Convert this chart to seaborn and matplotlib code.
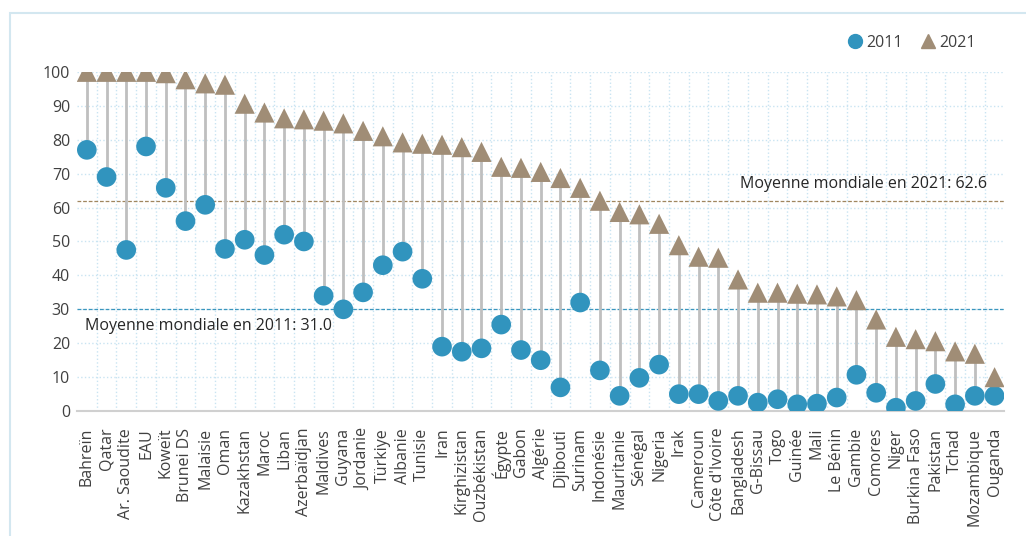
import pandas as pd
import seaborn as sns
import matplotlib.pyplot as plt
from matplotlib.patches import Rectangle
from matplotlib.lines import Line2D

sns.set_style('white')
plt.rcParams['font.family'] = ['Open Sans', 'DejaVu Sans']

countries = ['Bahreïn', 'Qatar', 'Ar. Saoudite', 'EAU', 'Koweït', 'Brunei DS', 'Malaisie',
             'Oman', 'Kazakhstan', 'Maroc', 'Liban', 'Azerbaïdjan', 'Maldives', 'Guyana',
             'Jordanie', 'Türkiye', 'Albanie', 'Tunisie', 'Iran', 'Kirghizistan',
             'Ouzbékistan', 'Égypte', 'Gabon', 'Algérie', 'Djibouti', 'Surinam', 'Indonésie',
             'Mauritanie', 'Sénégal', 'Nigeria', 'Irak', 'Cameroun', "Côte d'Ivoire",
             'Bangladesh', 'G-Bissau', 'Togo', 'Guinée', 'Mali', 'Le Bénin', 'Gambie',
             'Comores', 'Niger', 'Burkina Faso', 'Pakistan', 'Tchad', 'Mozambique', 'Ouganda']

values_2011 = [77, 69, 47.5, 78, 65.8, 56, 60.8, 47.8, 50.5, 46, 52, 50, 34, 30, 35, 43,
               47, 39, 19, 17.5, 18.5, 25.5, 18, 15, 7, 32, 12, 4.5, 9.8, 13.7, 5, 5, 3,
               4.5, 2.5, 3.5, 2, 2.2, 4, 10.7, 5.4, 1, 3, 8, 2, 4.5, 4.5]

values_2021 = [100, 100, 100, 100, 99.6, 97.8, 96.6, 96.2, 90.6, 88, 86.3, 86, 85.6, 84.8,
               82.6, 81, 79.2, 78.8, 78.5, 77.8, 76.4, 72, 71.7, 70.5, 68.7, 65.8, 62,
               58.7, 58, 55.2, 48.9, 45.5, 45.2, 38.8, 34.9, 34.9, 34.6, 34.4, 33.8, 32.7,
               27, 21.9, 21.2, 20.6, 17.6, 16.9, 10]

world_mean_2011 = 31.0
world_mean_2021 = 62.6
line_2011 = 30
line_2021 = 62

blue = '#3194BE'
brown = '#A08D76'


def build_df():
    df = pd.DataFrame({'pays': countries, '2011': values_2011, '2021': values_2021})
    df['pos'] = range(len(df))
    return df


def plot_chart(df):
    fig = plt.figure(figsize=(10.26, 5.36), dpi=100)
    fig.patches.append(Rectangle((0.01, -0.02), 1.2, 0.996, transform=fig.transFigure,
                                 fill=False, edgecolor='#D3E7F0', linewidth=1.5))
    ax = fig.add_axes([0.075, 0.233, 0.904, 0.633])

    ax.vlines(df['pos'], df['2011'], df['2021'], color='#BFBFBF', linewidth=2, zorder=2)
    ax.axhline(line_2021, color='#A0865F', linestyle=(0, (3, 1.5)), linewidth=0.9, zorder=1)
    ax.axhline(line_2011, color='#3A96BE', linestyle=(0, (3, 1.5)), linewidth=0.9, zorder=1)

    sns.scatterplot(data=df, x='pos', y='2011', ax=ax, color=blue, marker='o', s=200,
                    edgecolor='none', zorder=3)
    sns.scatterplot(data=df, x='pos', y='2021', ax=ax, color=brown, marker='^', s=210,
                    edgecolor='none', zorder=3)

    ax.set_xlim(-0.5, len(df) - 0.5)
    ax.set_ylim(0, 100)
    ax.set_yticks(range(0, 101, 10))
    ax.set_xticks(df['pos'])
    ax.set_xticklabels(df['pays'], rotation=90)
    ax.tick_params(axis='both', labelsize=11.5, colors='#404040', length=0, pad=5)
    ax.tick_params(axis='x', pad=12)
    ax.set_xlabel('')
    ax.set_ylabel('')

    # dotted grid
    ax.set_xticks([p + 0.5 for p in df['pos'][:-1]], minor=True)
    ax.grid(axis='y', which='major', color='#C9E4F2', linestyle=':', linewidth=1)
    ax.grid(axis='x', which='minor', color='#C9E4F2', linestyle=':', linewidth=1)
    ax.set_axisbelow(True)
    for side in ['top', 'right', 'left']:
        ax.spines[side].set_visible(False)
    ax.spines['bottom'].set_color('#D0D0D0')
    ax.spines['bottom'].set_linewidth(1.5)

    ax.text(len(df) - 1.4, line_2021 + 2.5, f'Moyenne mondiale en 2021: {world_mean_2021}',
            ha='right', va='bottom', fontsize=11.5, color='#262626')
    ax.text(-0.1, line_2011 - 2.5, f'Moyenne mondiale en 2011: {world_mean_2011}',
            ha='left', va='top', fontsize=11.5, color='#262626')

    handles = [Line2D([], [], marker='o', color=blue, linestyle='', markersize=10),
               Line2D([], [], marker='^', color=brown, linestyle='', markersize=10)]
    ax.legend(handles, ['2011', '2021'], ncol=2, frameon=False, loc='lower right',
              bbox_to_anchor=(0.985, 1.02), fontsize=11.5, handletextpad=0.1,
              columnspacing=1.0, handlelength=1.2, labelcolor='#404040')

    fig.savefig('out.png', dpi=100)


plot_chart(build_df())
